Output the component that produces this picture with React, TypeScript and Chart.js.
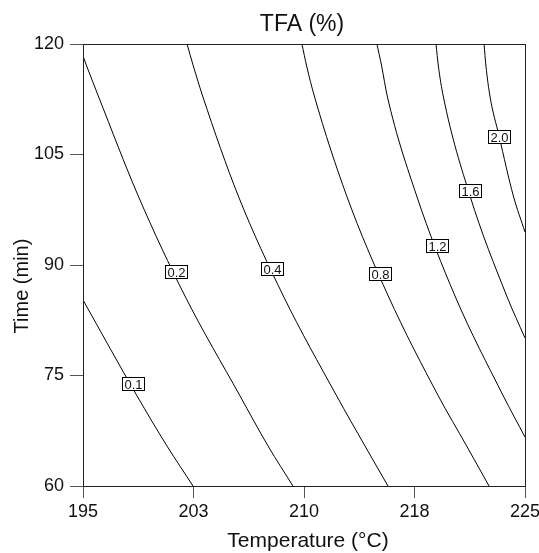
import React, { useEffect, useRef } from 'react';
import { Chart, registerables } from 'chart.js';
Chart.register(...registerables);

const xTicks = [195, 202.5, 210, 217.5, 225];
const yTicks = [60, 75, 90, 105, 120];

const c01 = [{ x: 195.0, y: 85.25 }, { x: 198.67, y: 72.22 }, { x: 200.7, y: 65.43 }, { x: 202.47, y: 60 }];
const c02 = [{ x: 195.0, y: 118.37 }, { x: 195.25, y: 117.01 }, { x: 196.04, y: 112.94 }, { x: 198.75, y: 99.37 }, { x: 201.92, y: 85.79 }, { x: 205.66, y: 72.22 }, { x: 207.56, y: 65.43 }, { x: 209.25, y: 60 }];
const c04 = [{ x: 202.06, y: 120 }, { x: 202.49, y: 117.01 }, { x: 203.12, y: 112.94 }, { x: 205.54, y: 99.37 }, { x: 208.6, y: 85.79 }, { x: 212.22, y: 72.22 }, { x: 214.14, y: 65.43 }, { x: 215.7, y: 60 }];
const c08 = [{ x: 209.86, y: 120 }, { x: 210.18, y: 117.01 }, { x: 210.7, y: 112.94 }, { x: 212.9, y: 99.37 }, { x: 215.72, y: 85.79 }, { x: 219.12, y: 72.22 }, { x: 221.04, y: 65.43 }, { x: 222.56, y: 60 }];
const c12 = [{ x: 214.95, y: 120 }, { x: 215.27, y: 117.01 }, { x: 215.65, y: 112.94 }, { x: 217.65, y: 99.37 }, { x: 220.25, y: 85.79 }, { x: 223.53, y: 72.22 }, { x: 225, y: 66.65 }];
const c16 = [{ x: 218.96, y: 120 }, { x: 219.12, y: 117.01 }, { x: 219.45, y: 112.94 }, { x: 221.27, y: 99.37 }, { x: 223.76, y: 85.79 }, { x: 225, y: 80.09 }];
const c20 = [{ x: 222.22, y: 120 }, { x: 222.35, y: 117.01 }, { x: 222.62, y: 112.94 }, { x: 223.24, y: 107.51 }, { x: 224.21, y: 99.37 }, { x: 225, y: 94.48 }];

const contours = [c01, c02, c04, c08, c12, c16, c20];
const levelTexts = ['0.1', '0.2', '0.4', '0.8', '1.2', '1.6', '2.0'];
const labelX = [198.39, 201.31, 207.83, 215.16, 219.03, 221.27, 223.24];
const labelY = [73.85, 89.05, 89.59, 88.91, 92.58, 100.18, 107.51];

const FONT = '"Liberation Sans", Arial, Helvetica, sans-serif';

export default function App() {
  const ref = useRef<HTMLCanvasElement>(null);
  useEffect(() => {
    if (!ref.current) return;
    const overlay = {
      id: 'overlay',
      afterDatasetsDraw(chart: any) {
        const ctx = chart.ctx;
        const xs = chart.scales.x;
        const ys = chart.scales.y;
        const a = chart.chartArea;
        ctx.save();
        ctx.font = `13px ${FONT}`;
        ctx.textAlign = 'center';
        ctx.textBaseline = 'middle';
        levelTexts.forEach((t, i) => {
          const px = xs.getPixelForValue(labelX[i]);
          const py = ys.getPixelForValue(labelY[i]);
          const w = Math.round(ctx.measureText(t).width + 4);
          const h = 13;
          const bx = Math.round(px - w / 2);
          const by = Math.round(py - h / 2);
          ctx.fillStyle = '#fff';
          ctx.fillRect(bx, by, w, h);
          ctx.strokeStyle = '#000';
          ctx.lineWidth = 1;
          ctx.strokeRect(bx + 0.5, by + 0.5, w, h);
          ctx.fillStyle = '#111';
          ctx.fillText(t, bx + w / 2 + 0.5, by + h / 2 + 1.5);
        });
        ctx.strokeStyle = '#222';
        ctx.lineWidth = 1;
        ctx.strokeRect(Math.round(a.left) + 0.5, Math.round(a.top) + 0.5, Math.round(a.right - a.left), Math.round(a.bottom - a.top));
        ctx.fillStyle = '#111';
        ctx.textAlign = 'center';
        ctx.textBaseline = 'middle';
        ctx.font = `23px ${FONT}`;
        ctx.fillText('TFA (%)', 302, 25);
        ctx.font = `21px ${FONT}`;
        ctx.fillText('Temperature (°C)', 308, 541);
        ctx.font = `20px ${FONT}`;
        ctx.translate(22, 286);
        ctx.rotate(-Math.PI / 2);
        ctx.fillText('Time (min)', 0, 0);
        ctx.restore();
      },
    };
    const chart = new Chart(ref.current, {
      type: 'scatter',
      data: {
        datasets: contours.map((pts, i) => ({
          label: levelTexts[i],
          data: pts,
          showLine: true,
          borderColor: '#000',
          borderWidth: 1,
          pointRadius: 0,
          cubicInterpolationMode: 'monotone',
          fill: false,
        })),
      },
      options: {
        animation: false,
        responsive: false,
        layout: { padding: { top: 44, right: 14, left: 0, bottom: 0 } },
        plugins: { legend: { display: false }, tooltip: { enabled: false }, title: { display: false } },
        scales: {
          x: {
            type: 'linear',
            min: 195,
            max: 225,
            afterBuildTicks: (s: any) => { s.ticks = xTicks.map((v) => ({ value: v })); },
            afterFit: (s: any) => { s.height = 67; s.paddingRight = 0; s.paddingLeft = 0; },
            ticks: {
              callback: (v: any) => String(Math.round(Number(v))),
              color: '#111',
              font: { family: FONT, size: 18 },
              padding: 3,
              maxRotation: 0,
              autoSkip: false,
            },
            grid: { drawOnChartArea: false, drawTicks: true, tickLength: 12, color: '#555' },
            border: { display: true, color: '#222' },
          },
          y: {
            type: 'linear',
            min: 60,
            max: 120,
            afterBuildTicks: (s: any) => { s.ticks = yTicks.map((v) => ({ value: v })); },
            afterFit: (s: any) => { s.width = 83; s.paddingTop = 0; s.paddingBottom = 0; },
            ticks: {
              color: '#111',
              font: { family: FONT, size: 18 },
              padding: 6,
              autoSkip: false,
            },
            grid: { drawOnChartArea: false, drawTicks: true, tickLength: 13, color: '#555' },
            border: { display: true, color: '#222' },
          },
        },
      },
      plugins: [overlay],
    } as any);
    return () => chart.destroy();
  }, []);
  return (
    <div style={{ position: 'fixed', left: 0, top: 0, width: 539, height: 553, background: '#fff' }}>
      <canvas ref={ref} width={539} height={553} style={{ width: 539, height: 553, display: 'block' }} />
    </div>
  );
}
